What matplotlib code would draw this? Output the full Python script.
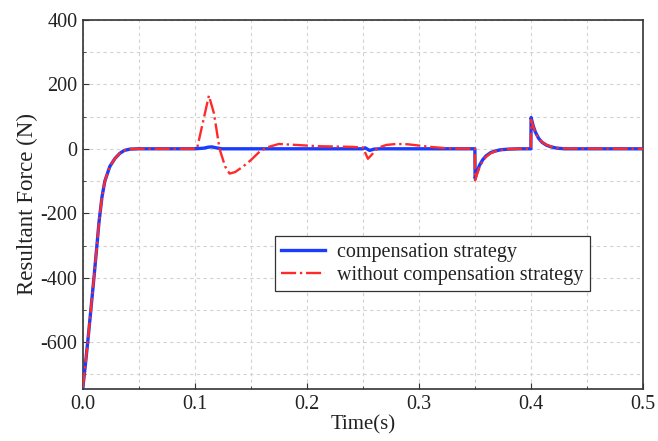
import matplotlib
matplotlib.use('Agg')
import matplotlib.pyplot as plt
from matplotlib.ticker import MultipleLocator

# values
t_comp = [0.0, 0.0025, 0.005, 0.0075, 0.01, 0.0125, 0.0143, 0.017, 0.0196, 0.024, 0.0286,
          0.033, 0.037, 0.042, 0.05, 0.1, 0.108, 0.112, 0.115, 0.119, 0.124,
          0.25, 0.252, 0.256, 0.26, 0.265, 0.35, 0.3502, 0.352, 0.354, 0.357, 0.36, 0.364,
          0.368, 0.373, 0.38, 0.39, 0.4, 0.4002, 0.402, 0.404, 0.407, 0.41, 0.414, 0.418,
          0.423, 0.43, 0.5]
f_comp = [-740, -660, -575, -485, -395, -300, -230, -150, -100, -55, -30,
          -14, -5, -1, 0, 0, 2, 5, 6, 3, 0,
          0, 3, -5, -1, 0, 0, -92, -72, -52, -34, -22, -12,
          -7, -3, -1, 0, 0, 97, 72, 52, 32, 20, 11, 6,
          2, 0, 0]

t_wo = [0.0, 0.0025, 0.005, 0.0075, 0.01, 0.0125, 0.0143, 0.017, 0.0196, 0.024, 0.0286,
        0.033, 0.037, 0.042, 0.05, 0.1, 0.102, 0.107, 0.1125, 0.117, 0.122, 0.127,
        0.131, 0.136, 0.143, 0.15, 0.158, 0.165, 0.175, 0.19, 0.21, 0.24, 0.25,
        0.2545, 0.258, 0.262, 0.266, 0.271, 0.28, 0.29, 0.3, 0.31, 0.32, 0.33, 0.35,
        0.3502, 0.352, 0.354, 0.357, 0.36, 0.364, 0.368, 0.373, 0.38, 0.39, 0.4,
        0.4002, 0.402, 0.404, 0.407, 0.41, 0.414, 0.418, 0.423, 0.43, 0.5]
f_wo = [-740, -660, -575, -485, -395, -300, -230, -150, -100, -55, -30,
        -14, -5, -1, 0, 0, 2, 80, 165, 110, 0, -55,
        -77, -72, -55, -35, -8, 5, 15, 12, 8, 6, 4,
        -31, -18, -2, 6, 12, 15, 14, 10, 6, 3, 1, 0,
        -98, -78, -58, -38, -25, -14, -8, -4, -1, 0, 0,
        90, 70, 50, 32, 21, 12, 7, 3, 1, 0]

xticks = [0, 0.1, 0.2, 0.3, 0.4, 0.5]
xtick_labels = ['0.0', '0.1', '0.2', '0.3', '0.4', '0.5']
yticks = [-600, -400, -200, 0, 200, 400]
ytick_labels = ['-600', '-400', '-200', '0', '200', '400']

serif = 'Liberation Serif'

fig = plt.figure(figsize=(6.58, 4.41), dpi=100)
ax = fig.add_axes([0.126, 0.118, 0.851, 0.837])

ax.plot(t_comp, f_comp, color='#1a3cff', lw=2.4, label='compensation strategy', zorder=3)
ax.plot(t_wo, f_wo, color='#ff2a2a', lw=1.7, ls='-.', label='without compensation strategy', zorder=4)

ax.set_xlim(0, 0.5)
ax.set_ylim(-745, 400)
ax.xaxis.set_minor_locator(MultipleLocator(0.05))
ax.yaxis.set_minor_locator(MultipleLocator(100))
ax.set_xticks(xticks)
ax.set_xticklabels(xtick_labels, fontfamily=serif)
ax.set_yticks(yticks)
ax.set_yticklabels(ytick_labels, fontfamily=serif)
ax.grid(which='both', color='#d2d2d2', ls=(0, (3, 3)), lw=0.8)
ax.tick_params(which='both', direction='in', labelsize=14.5, colors='#333333', labelcolor='#222222')
ax.tick_params(which='major', length=4, pad=4)
ax.tick_params(which='minor', length=2.5)
for s in ax.spines.values():
    s.set_color('#333333')
    s.set_linewidth(1.2)

ax.set_xlabel('Time(s)', fontsize=15, fontfamily=serif, labelpad=1, color='#222222')
ax.set_ylabel('Resultant Force (N)', fontsize=16.5, fontfamily=serif, labelpad=2, color='#222222')

leg = ax.legend(loc='lower left', bbox_to_anchor=(0.343, 0.266), fancybox=False,
                edgecolor='#333333', framealpha=1, handlelength=2.2, handletextpad=0.6,
                prop={'family': serif, 'size': 14.5}, borderpad=0.3,
                labelspacing=0.2, borderaxespad=0)
leg.get_frame().set_linewidth(0.9)
for txt in leg.get_texts():
    txt.set_color('#222222')

fig.savefig('out.png', dpi=100)
